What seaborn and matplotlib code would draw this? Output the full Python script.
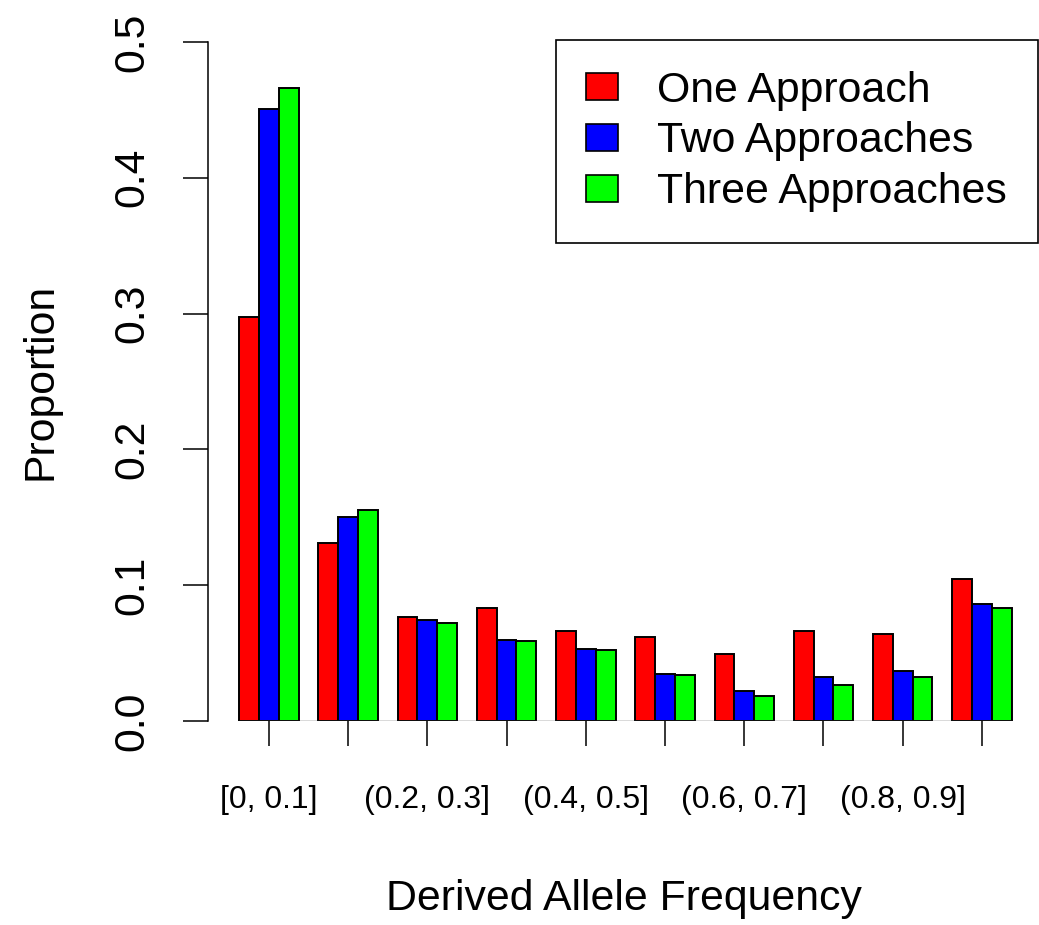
import numpy as np
import pandas as pd
import matplotlib
matplotlib.use("Agg")
import matplotlib.pyplot as plt
import seaborn as sns
from matplotlib.patches import Patch

# ---- data ----
bins = ["[0, 0.1]", "(0.1, 0.2]", "(0.2, 0.3]", "(0.3, 0.4]", "(0.4, 0.5]",
        "(0.5, 0.6]", "(0.6, 0.7]", "(0.7, 0.8]", "(0.8, 0.9]", "(0.9, 1]"]
approaches = ["One Approach", "Two Approaches", "Three Approaches"]
one_approach = [0.2975, 0.131, 0.0765, 0.083, 0.0662, 0.0619, 0.0493, 0.0665, 0.0638, 0.1048]
two_approaches = [0.4507, 0.150, 0.0741, 0.0596, 0.0527, 0.0346, 0.0221, 0.0324, 0.0370, 0.0864]
three_approaches = [0.4659, 0.1557, 0.0721, 0.0590, 0.0524, 0.0336, 0.0182, 0.0265, 0.0326, 0.0834]
colors = ["#FF0000", "#0000FF", "#00FF00"]
y_ticks = [0.0, 0.1, 0.2, 0.3, 0.4, 0.5]

df = pd.DataFrame({
    "bin": bins * 3,
    "prop": one_approach + two_approaches + three_approaches,
    "approach": sum([[a] * len(bins) for a in approaches], []),
})

sns.set_theme(style="ticks")
plt.rcParams["font.family"] = ["Liberation Sans", "DejaVu Sans"]
plt.rcParams["text.color"] = "black"
plt.rcParams["axes.labelcolor"] = "black"
plt.rcParams["xtick.color"] = "black"
plt.rcParams["ytick.color"] = "black"

BIG = 30.8
fig = plt.figure(figsize=(10.39, 9.25), dpi=100)
ax = fig.add_axes([208 / 1039, 204 / 925, 831 / 1039, 679 / 925])

group_w = 0.75
sns.barplot(data=df, x="bin", y="prop", hue="approach", order=bins,
            hue_order=approaches, palette=colors, width=group_w, gap=0,
            saturation=1, edgecolor="black", linewidth=1.4, ax=ax,
            legend=False, errorbar=None)

# baseline under the bars
n = len(bins)
ax.plot([-group_w / 2, n - 1 + group_w / 2], [0, 0], color="#444444", lw=1.0,
        zorder=5, solid_capstyle="butt")

ax.set_xlim(-0.770, 9.722)
ax.set_ylim(0, 0.5)

for s in ["top", "right", "bottom"]:
    ax.spines[s].set_visible(False)
ax.spines["left"].set_bounds(0, 0.5)
ax.spines["left"].set_linewidth(1.1)
ax.spines["left"].set_color("black")

ax.set_yticks(y_ticks)
ax.set_yticklabels([f"{v:.1f}" for v in y_ticks], rotation=90, va="center",
                   fontsize=BIG)
ax.tick_params(axis="y", length=18, width=1.1, pad=22, colors="black")

ax.set_xticks(range(n))
ax.set_xticklabels([b if i % 2 == 0 else "" for i, b in enumerate(bins)],
                   fontsize=23)
ax.tick_params(axis="x", length=18, width=1.1, pad=28, colors="black")

ax.set_xlabel("Derived Allele Frequency", fontsize=BIG, color="black")
ax.xaxis.set_label_coords(0.5, -0.233)
ax.set_ylabel("Proportion", fontsize=BIG, color="black")
ax.yaxis.set_label_coords(-0.178, 0.5)

handles = [Patch(facecolor=c, edgecolor="black", linewidth=1.2, label=a)
           for c, a in zip(colors, approaches)]
leg = fig.legend(handles=handles, loc="upper right",
                 bbox_to_anchor=(1037.5 / 1039, 1 - 40 / 925),
                 bbox_transform=fig.transFigure, borderaxespad=0,
                 fontsize=BIG, frameon=True, fancybox=False, shadow=False,
                 handlelength=0.75, handleheight=0.6, handletextpad=0.9,
                 labelspacing=0.25, borderpad=0.72)
for t in leg.get_texts():
    t.set_color("black")
leg.get_frame().set_edgecolor("black")
leg.get_frame().set_linewidth(1.2)
leg.get_frame().set_alpha(1)

fig.savefig("out.png", dpi=100, facecolor="white")
